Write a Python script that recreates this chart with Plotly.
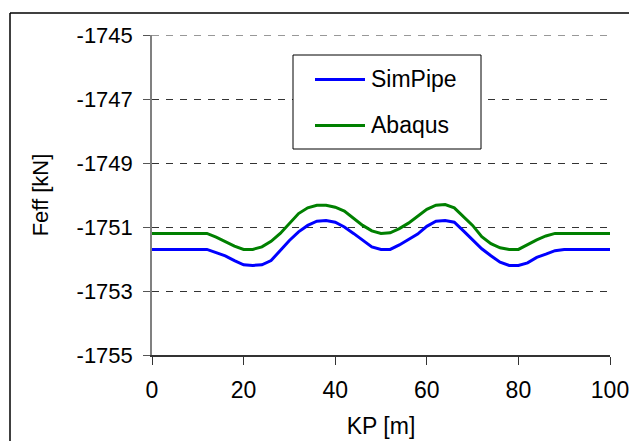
import plotly.graph_objects as go

kp = list(range(0, 101, 2))

simpipe = [-1751.70, -1751.70, -1751.70, -1751.70, -1751.70, -1751.70, -1751.70,
           -1751.80, -1751.90, -1752.05, -1752.18, -1752.20, -1752.18, -1752.05,
           -1751.72, -1751.42, -1751.15, -1750.95, -1750.82, -1750.80, -1750.85,
           -1751.00, -1751.20, -1751.42, -1751.62, -1751.70, -1751.70, -1751.56,
           -1751.40, -1751.22, -1750.98, -1750.82, -1750.80, -1750.85, -1751.12,
           -1751.40, -1751.68, -1751.90, -1752.10, -1752.20, -1752.20, -1752.12,
           -1751.95, -1751.85, -1751.74, -1751.70, -1751.70, -1751.70, -1751.70,
           -1751.70, -1751.70]

abaqus = [-1751.20, -1751.20, -1751.20, -1751.20, -1751.20, -1751.20, -1751.20,
          -1751.32, -1751.45, -1751.60, -1751.70, -1751.70, -1751.62, -1751.45,
          -1751.20, -1750.90, -1750.58, -1750.40, -1750.32, -1750.32, -1750.38,
          -1750.50, -1750.72, -1750.95, -1751.12, -1751.20, -1751.18, -1751.05,
          -1750.88, -1750.65, -1750.45, -1750.32, -1750.30, -1750.40, -1750.66,
          -1750.95, -1751.30, -1751.52, -1751.65, -1751.70, -1751.70, -1751.55,
          -1751.40, -1751.28, -1751.20, -1751.20, -1751.20, -1751.20, -1751.20,
          -1751.20, -1751.20]

series_names = ["SimPipe", "Abaqus"]
colors = ["#0000FF", "#008000"]
x_ticks = [0, 20, 40, 60, 80, 100]
y_ticks = [-1755, -1753, -1751, -1749, -1747, -1745]
y_ticklabels = ["-1755", "-1753", "-1751", "-1749", "-1747", "-1745"]

FONT = "Liberation Sans, Arial, sans-serif"

fig = go.Figure()
for name, vals, col in zip(series_names, [simpipe, abaqus], colors):
    fig.add_trace(go.Scatter(x=kp, y=vals, mode="lines", name=name,
                             line=dict(color=col, width=3), showlegend=False))

# plot area geometry (pixels) for paper conversion
L, R, T, B = 152, 610, 35, 355
def px(x):
    return (x - L) / (R - L)
def py(y):
    return (B - y) / (B - T)

shapes = [
    # outer chart frame (top and left edges; others fall outside the picture)
    dict(type="line", xref="paper", yref="paper", x0=px(10), x1=px(640), y0=py(13), y1=py(13),
         line=dict(color="#000000", width=1.5), layer="below"),
    dict(type="line", xref="paper", yref="paper", x0=px(10), x1=px(10), y0=py(13), y1=py(450),
         line=dict(color="#000000", width=1.5), layer="below"),
    # top gridline at the range edge
    dict(type="line", xref="paper", yref="y", x0=0, x1=1, y0=y_ticks[-1], y1=y_ticks[-1],
         line=dict(color="#333333", width=1, dash="7px,7px"), layer="above"),
    # legend box
    dict(type="rect", xref="paper", yref="paper", x0=px(293), x1=px(481), y0=py(149), y1=py(55),
         line=dict(color="#000000", width=1), fillcolor="white", layer="above"),
]
annotations = []
legend_y = [79.5, 125.5]
for name, col, ly in zip(series_names, colors, legend_y):
    shapes.append(dict(type="line", xref="paper", yref="paper", x0=px(315), x1=px(365),
                       y0=py(ly), y1=py(ly), line=dict(color=col, width=3), layer="above"))
    annotations.append(dict(xref="paper", yref="paper", x=px(369), y=py(ly - 1), text=name,
                            showarrow=False, xanchor="left", yanchor="middle",
                            font=dict(family=FONT, size=23, color="#000000")))

fig.update_layout(
    width=629, height=441,
    margin=dict(l=L, r=629 - R, t=T, b=441 - B, autoexpand=False),
    paper_bgcolor="white", plot_bgcolor="white",
    font=dict(family=FONT, size=22, color="#000000"),
    shapes=shapes, annotations=annotations,
    xaxis=dict(range=[0, 100], tickvals=x_ticks, ticks="outside", ticklen=8, tickwidth=1,
               tickcolor="#333333", showline=True, linecolor="#333333", linewidth=1.5,
               showgrid=False, zeroline=False, ticklabelstandoff=6, automargin=False,
               ticklabeloverflow="allow", tickfont=dict(size=23),
               title=dict(text="KP [m]", standoff=16, font=dict(size=23))),
    yaxis=dict(range=[-1755, -1745], tickvals=y_ticks, ticktext=y_ticklabels,
               ticks="outside", ticklen=7, tickwidth=1, automargin=False,
               tickcolor="#555555", showline=True, linecolor="#808080", linewidth=1.5,
               showgrid=True, gridcolor="#333333", gridwidth=1, griddash="7px,7px",
               zeroline=False, ticklabelstandoff=6, tickfont=dict(size=22),
               title=dict(text="Feff [kN]", standoff=22, font=dict(size=22))),
)

fig.write_html("out.html")
